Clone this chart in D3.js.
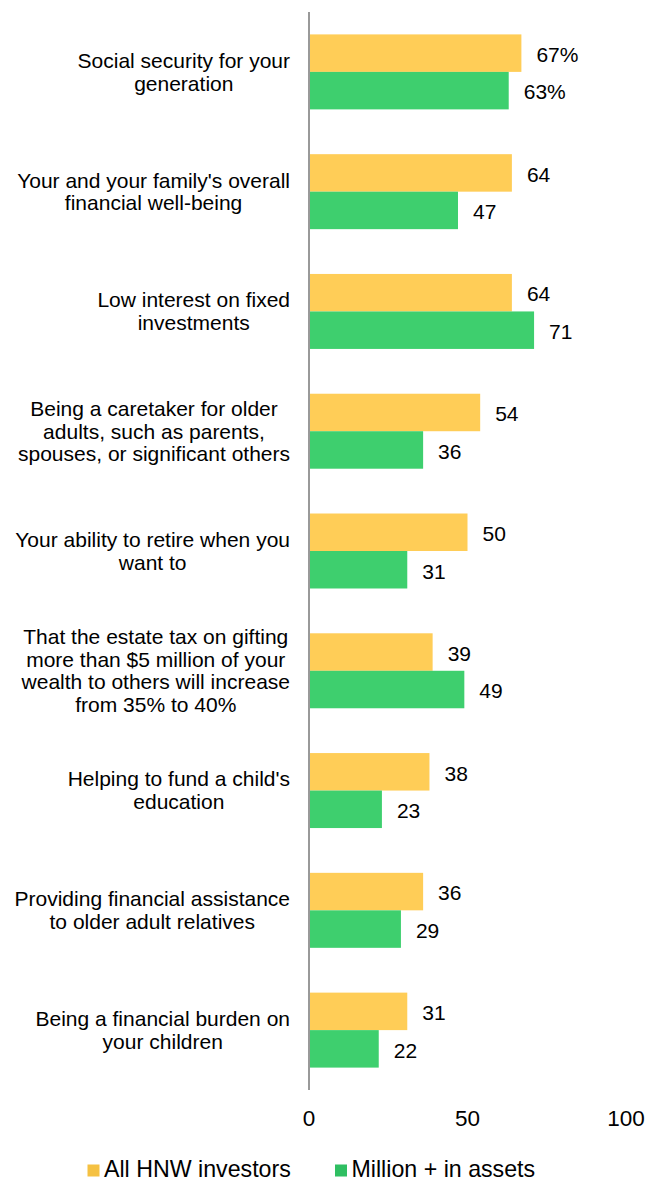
<!DOCTYPE html>
<html><head><meta charset="utf-8">
<script src="https://cdn.jsdelivr.net/npm/d3@7"></script>
<style>body{margin:0;background:#fff}svg{display:block}text{font-family:"Liberation Sans",Arial,sans-serif;fill:#000}</style>
</head><body>
<script>
const categories = [
  ["Social security for your","generation"],
  ["Your and your family's overall","financial well-being"],
  ["Low interest on fixed","investments"],
  ["Being a caretaker for older","adults, such as parents,","spouses, or significant others"],
  ["Your ability to retire when you","want to"],
  ["That the estate tax on gifting","more than $5 million of your","wealth to others will increase","from 35% to 40%"],
  ["Helping to fund a child's","education"],
  ["Providing financial assistance","to older adult relatives"],
  ["Being a financial burden on","your children"]
];
const allHNW = [67,64,64,54,50,39,38,36,31];
const million = [63,47,71,36,31,49,23,29,22];
const seriesNames = ["All HNW investors","Million + in assets"];
const colors = ["#FFCD57","#3ECF6E"];
const legendColors = ["#F5C142","#2FBF62"];
const xTicks = [0,50,100];

const W=649,H=1182;
const svg=d3.select("body").append("svg").attr("width",W).attr("height",H);
const x=d3.scaleLinear().domain([0,100]).range([309,626]);
const idx=d3.range(categories.length);
const y=d3.scaleBand().domain(idx).range([12,1090]).paddingInner(0.374).paddingOuter(0.187);
const sub=d3.scaleBand().domain([0,1]).range([0,y.bandwidth()]);
const fs=21;

const series=[allHNW,million];
series.forEach((vals,s)=>{
  svg.append("g").selectAll("rect").data(vals).join("rect")
    .attr("x",x(0)).attr("y",(d,i)=>y(i)+sub(s)).attr("width",d=>x(d)-x(0)).attr("height",sub.bandwidth())
    .attr("fill",colors[s]);
  svg.append("g").selectAll("text").data(vals).join("text")
    .attr("x",d=>x(d)+15).attr("y",(d,i)=>y(i)+sub(s)+sub.bandwidth()/2+8.8)
    .attr("font-size",fs)
    .text((d,i)=>i===0?d+"%":d);
});

// axis line
svg.append("line").attr("x1",x(0)).attr("x2",x(0)).attr("y1",12).attr("y2",1090).attr("stroke","#999").attr("stroke-width",2);

// category labels
const lh=22.8;
idx.forEach(i=>{
  const lines=categories[i];
  const g=svg.append("g");
  const cy=y(i)+y.bandwidth()/2;
  const t=g.selectAll("text").data(lines).join("text")
    .attr("font-size",fs).attr("text-anchor","middle")
    .attr("y",(d,k)=>cy+(k-(lines.length-1)/2)*lh+7.3).text(d=>d);
  let mw=0; t.each(function(){mw=Math.max(mw,this.getComputedTextLength());});
  t.attr("x",290-mw/2);
});

// x axis tick labels
svg.append("g").selectAll("text").data(xTicks).join("text")
  .attr("x",d=>x(d)).attr("y",1125.5).attr("text-anchor","middle")
  .attr("font-size",22.5).text(d=>d);

// legend
const lx=[87.5,335];
seriesNames.forEach((n,s)=>{
  svg.append("rect").attr("x",lx[s]).attr("y",1164.5).attr("width",12).attr("height",12).attr("fill",legendColors[s]);
  svg.append("text").attr("x",lx[s]+16.5).attr("y",1177).attr("font-size",23.2).text(n);
});
</script>
</body></html>
